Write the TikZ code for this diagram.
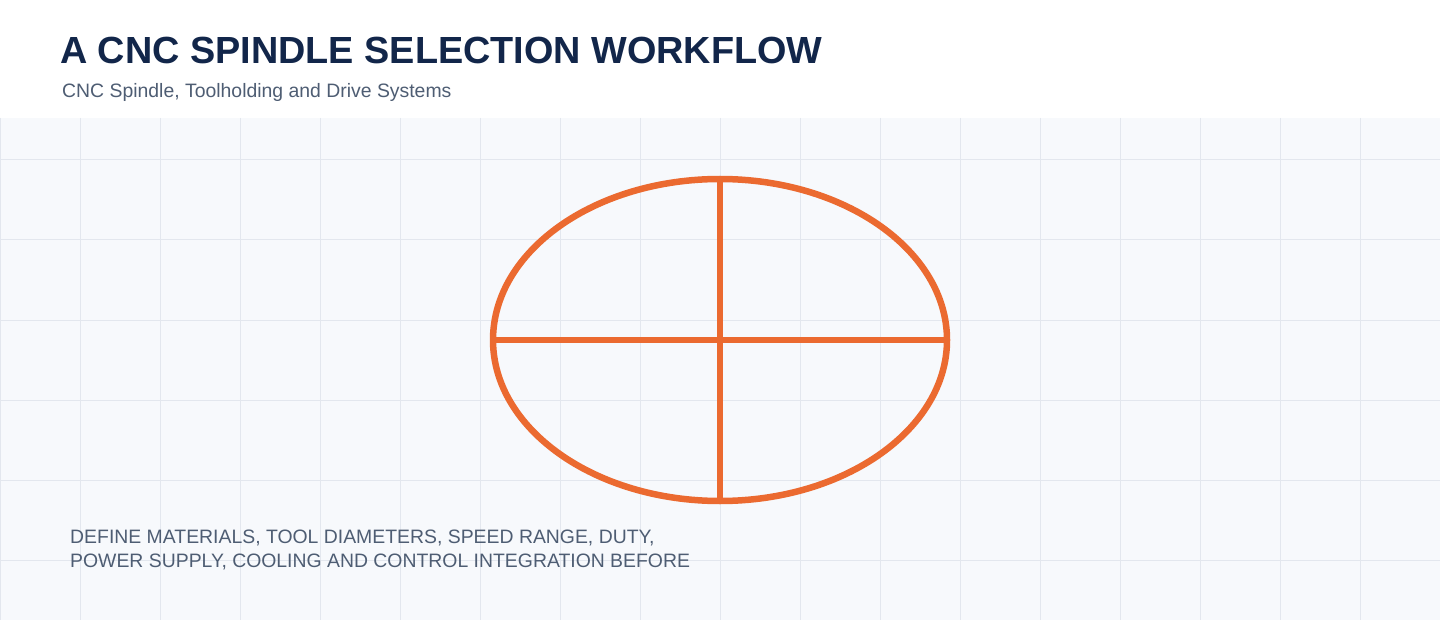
\documentclass[tikz,border=0pt]{standalone}
\usepackage{fontspec}
\setmainfont{Liberation Sans}
\definecolor{bgc}{HTML}{F7F9FC}
\definecolor{gridc}{HTML}{E3E7EE}
\definecolor{titlec}{HTML}{12264A}
\definecolor{subc}{HTML}{4E5D73}
\definecolor{orangec}{HTML}{EB6A30}
\tikzset{
  title/.style={anchor=base west, inner sep=0pt, text=titlec, font=\fontsize{37.8}{44}\selectfont\bfseries},
  subtitle/.style={anchor=base west, inner sep=0pt, text=subc, font=\fontsize{19.4}{23}\selectfont},
  note/.style={anchor=base west, inner sep=0pt, text=subc, font=\fontsize{19.4}{24}\selectfont},
  glyph/.style={draw=orangec, line width=6.5pt},
}
\begin{document}
\begin{tikzpicture}[x=1pt,y=-1pt]
\useasboundingbox (0,0) rectangle (1440,620);
\fill[white] (0,0) rectangle (1440,620);
\fill[bgc] (0,118) rectangle (1440,620);
\begin{scope}
\clip (0,118) rectangle (1440,620);
\foreach \x in {0,80,...,1440} \draw[gridc, line width=1pt] (\x,118) -- (\x,620);
\foreach \y in {160,240,...,560} \draw[gridc, line width=1pt] (0,\y) -- (1440,\y);
\end{scope}
\node[title] (t) at (60,64) {A CNC SPINDLE SELECTION WORKFLOW};
\node[subtitle] (s) at (62,98) {CNC Spindle, Toolholding and Drive Systems};
\coordinate (c) at (720,340);
\draw[glyph] (c) ellipse [x radius=227, y radius=161];
\coordinate (top) at (720,179);
\coordinate (bot) at (720,501);
\coordinate (lft) at (493,340);
\coordinate (rgt) at (947,340);
\draw[glyph] (top) -- (bot);
\draw[glyph] (lft) -- (rgt);
\node[note] (n1) at (70,543) {DEFINE MATERIALS, TOOL DIAMETERS, SPEED RANGE, DUTY,};
\node[note] (n2) at (70,567) {POWER SUPPLY, COOLING AND CONTROL INTEGRATION BEFORE};
\end{tikzpicture}
\end{document}
